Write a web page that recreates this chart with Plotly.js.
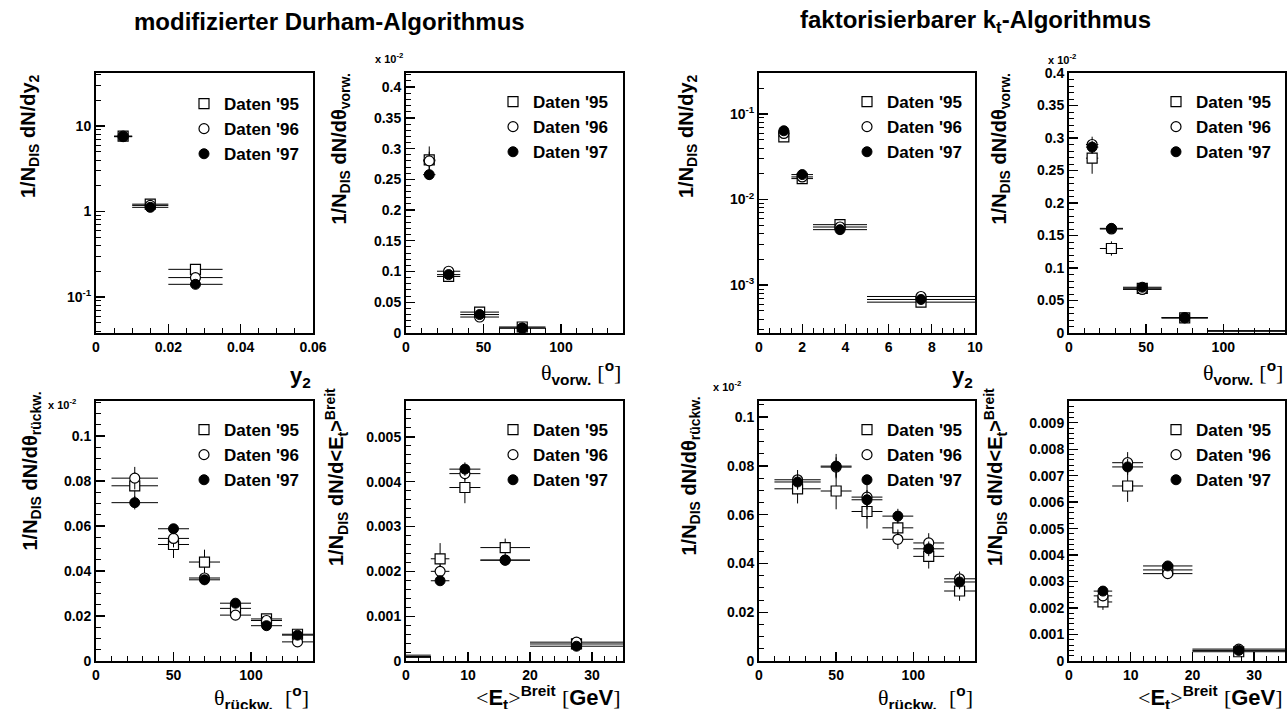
<!DOCTYPE html>
<html><head><meta charset="utf-8">
<script src="https://cdn.plot.ly/plotly-3.0.1.min.js"></script>
<style>html,body{margin:0;padding:0;background:#fff}</style>
</head><body><div id="chart" style="width:1287px;height:709px"></div>
<script>
const W = 1287, H = 709;
const FONT = 'Liberation Sans, Arial, sans-serif';

// ---------- DATA ----------
// modifizierter Durham-Algorithmus: y2
const DUR_Y2_X = [0.0075, 0.015, 0.0275];
const DUR_Y2_XERR = [0.0025, 0.005, 0.0075];
const DUR_Y2_95 = [7.6, 1.22, 0.211];
const DUR_Y2_95_ERR = [0.35, 0.06, 0.03];
const DUR_Y2_96 = [7.6, 1.18, 0.169];
const DUR_Y2_96_ERR = [0.3, 0.05, 0.02];
const DUR_Y2_97 = [7.5, 1.12, 0.141];
const DUR_Y2_97_ERR = [0.2, 0.04, 0.01];

// Durham: theta vorwaerts (x 10^-2)
const DUR_TV_X = [15, 27.5, 47.5, 75];
const DUR_TV_XERR = [4, 7.5, 12.5, 15];
const DUR_TV_95 = [0.2815, 0.092, 0.034, 0.0098];
const DUR_TV_95_ERR = [0.022, 0.007, 0.004, 0.002];
const DUR_TV_96 = [0.280, 0.1005, 0.026, 0.008];
const DUR_TV_96_ERR = [0.015, 0.005, 0.003, 0.0015];
const DUR_TV_97 = [0.2576, 0.095, 0.030, 0.008];
const DUR_TV_97_ERR = [0.008, 0.004, 0.002, 0.001];

// Durham: theta rueckwaerts (x 10^-2)
const DUR_TR_X = [25, 50, 70, 90, 110, 130];
const DUR_TR_XERR = [15, 10, 10, 10, 10, 10];
const DUR_TR_95 = [0.0779, 0.0518, 0.0440, 0.0234, 0.0187, 0.0119];
const DUR_TR_95_ERR = [0.006, 0.006, 0.0055, 0.0025, 0.002, 0.0015];
const DUR_TR_96 = [0.0813, 0.0545, 0.0369, 0.0204, 0.0180, 0.0085];
const DUR_TR_96_ERR = [0.005, 0.004, 0.003, 0.002, 0.0015, 0.001];
const DUR_TR_97 = [0.0704, 0.0588, 0.0361, 0.0257, 0.0157, 0.0115];
const DUR_TR_97_ERR = [0.003, 0.002, 0.002, 0.0015, 0.001, 0.001];

// Durham: <Et>^Breit
const DUR_ET_X = [5.5, 9.5, 16, 27.5];
const DUR_ET_XERR = [1.5, 2.5, 4, 7.5];
const DUR_ET_95 = [0.00228, 0.00387, 0.00253, 0.00038];
const DUR_ET_95_ERR = [0.00035, 0.00035, 0.0002, 0.00005];
const DUR_ET_96 = [0.00200, 0.00418, 0.00225, 0.00042];
const DUR_ET_96_ERR = [0.00015, 0.00015, 0.0001, 0.00004];
const DUR_ET_97 = [0.00179, 0.00428, 0.00225, 0.00033];
const DUR_ET_97_ERR = [0.0001, 0.00015, 0.0001, 0.00003];
const DUR_ET_LOW_X = [2];
const DUR_ET_LOW_XERR = [2];
const DUR_ET_LOW_95 = [0.00013];
const DUR_ET_LOW_96 = [0.00010];
const DUR_ET_LOW_97 = [0.00008];

// faktorisierbarer kt: y2
const KT_Y2_X = [1.15, 2, 3.75, 7.5];
const KT_Y2_XERR = [0.25, 0.5, 1.25, 2.5];
const KT_Y2_95 = [0.0542, 0.0176, 0.00509, 0.000632];
const KT_Y2_95_ERR = [0.005, 0.001, 0.0003, 0.00008];
const KT_Y2_96 = [0.0593, 0.0184, 0.00478, 0.000736];
const KT_Y2_96_ERR = [0.003, 0.0008, 0.0002, 0.00005];
const KT_Y2_97 = [0.0638, 0.0196, 0.00445, 0.000679];
const KT_Y2_97_ERR = [0.002, 0.0006, 0.0002, 0.00004];

// kt: theta vorwaerts (x 10^-2)
const KT_TV_X = [15, 27.5, 47.5, 75];
const KT_TV_XERR = [4, 7.5, 12.5, 15];
const KT_TV_95 = [0.269, 0.130, 0.0688, 0.0233];
const KT_TV_95_ERR = [0.024, 0.011, 0.004, 0.002];
const KT_TV_96 = [0.290, 0.160, 0.067, 0.0235];
const KT_TV_96_ERR = [0.012, 0.005, 0.003, 0.0015];
const KT_TV_97 = [0.286, 0.161, 0.0704, 0.0233];
const KT_TV_97_ERR = [0.010, 0.004, 0.002, 0.001];
const KT_TV_HIGH_X = [115];
const KT_TV_HIGH_XERR = [25];
const KT_TV_HIGH_95 = [0.0030];
const KT_TV_HIGH_96 = [0.0035];
const KT_TV_HIGH_97 = [0.0030];

// kt: theta rueckwaerts (x 10^-2)
const KT_TR_X = [25, 50, 70, 90, 110, 130];
const KT_TR_XERR = [15, 10, 10, 10, 10, 10];
const KT_TR_95 = [0.0706, 0.0697, 0.0613, 0.0546, 0.0429, 0.0287];
const KT_TR_95_ERR = [0.006, 0.0075, 0.007, 0.005, 0.005, 0.004];
const KT_TR_96 = [0.0743, 0.0795, 0.0672, 0.0499, 0.0484, 0.0337];
const KT_TR_96_ERR = [0.004, 0.004, 0.009, 0.004, 0.004, 0.003];
const KT_TR_97 = [0.0734, 0.0799, 0.0661, 0.0594, 0.0460, 0.0324];
const KT_TR_97_ERR = [0.003, 0.005, 0.004, 0.003, 0.003, 0.003];

// kt: <Et>^Breit
const KT_ET_X = [5.5, 9.5, 16, 27.5];
const KT_ET_XERR = [1.5, 2.5, 4, 7.5];
const KT_ET_95 = [0.00223, 0.00661, 0.00344, 0.00035];
const KT_ET_95_ERR = [0.0003, 0.0006, 0.0001, 0.00005];
const KT_ET_96 = [0.00246, 0.00749, 0.00330, 0.00045];
const KT_ET_96_ERR = [0.0002, 0.0004, 0.0001, 0.00005];
const KT_ET_97 = [0.00264, 0.00733, 0.00359, 0.00040];
const KT_ET_97_ERR = [0.0001, 0.0003, 0.0001, 0.00004];

const SERIES_NAMES = ["Daten '95", "Daten '96", "Daten '97"];

// ---------- STYLE ----------
const px = v => v / W;
const py = v => 1 - v / H;
const MARKERS = [
  {symbol: 'square', size: 10, color: '#ffffff', line: {color: '#000', width: 1.2}},
  {symbol: 'circle', size: 10, color: '#ffffff', line: {color: '#000', width: 1.2}},
  {symbol: 'circle', size: 10, color: '#000000', line: {color: '#000', width: 1}}
];

const traces = [];
const layout = {
  width: W, height: H,
  margin: {l: 0, r: 0, t: 0, b: 0},
  paper_bgcolor: '#fff', plot_bgcolor: '#fff',
  showlegend: true,
  font: {family: FONT, color: '#000'},
  annotations: []
};

function errBar(arr) {
  return {type: 'data', array: arr, visible: true, color: '#000', thickness: 1, width: 0};
}

function logMinor(lo, hi) {
  const v = [];
  for (let e = lo; e <= hi; e++) for (let m = 2; m <= 9; m++) v.push(m * Math.pow(10, e));
  return v;
}
const B = t => '<b>' + t + '</b>';

function addPanel(k, cfg) {
  const xa = k === 1 ? 'x' : 'x' + k;
  const ya = k === 1 ? 'y' : 'y' + k;
  const lg = k === 1 ? 'legend' : 'legend' + k;
  const common = {
    showline: true, mirror: true, linecolor: '#000', linewidth: 2,
    ticks: 'inside', ticklen: 9, tickwidth: 1.3, tickcolor: '#000',
    showgrid: false, zeroline: false,
    tickfont: {family: FONT, size: 14, weight: 700, color: '#000'}
  };
  layout[k === 1 ? 'xaxis' : 'xaxis' + k] = Object.assign({}, common, {
    domain: [px(cfg.xd[0]), px(cfg.xd[1])], anchor: ya,
    range: cfg.xr, tickvals: cfg.xtv, ticktext: cfg.xtv.map(v => B(String(v))),
    ticklabelstandoff: 0,
    minor: {ticks: 'inside', ticklen: 5, tickwidth: 1, tickcolor: '#000', dtick: cfg.xminor, tick0: 0}
  });
  const yax = Object.assign({}, common, {
    domain: [py(cfg.yd[1]), py(cfg.yd[0])], anchor: xa, range: cfg.yr
  });
  if (cfg.ylog) {
    yax.type = 'log';
    yax.tickvals = cfg.ytv; yax.ticktext = cfg.ytt.map(B);
    yax.minor = {ticks: 'inside', ticklen: 5, tickwidth: 1, tickcolor: '#000', tickvals: cfg.yminorvals};
  } else {
    yax.dtick = cfg.ydtick; yax.tick0 = 0;
    yax.tickprefix = '<b>'; yax.ticksuffix = '</b>';
    yax.minor = {ticks: 'inside', ticklen: 5, tickwidth: 1, tickcolor: '#000', dtick: cfg.yminor, tick0: 0};
  }
  layout[k === 1 ? 'yaxis' : 'yaxis' + k] = yax;

  cfg.series.forEach((s, i) => {
    traces.push({
      type: 'scatter', mode: 'markers', name: SERIES_NAMES[i],
      x: cfg.x, y: s[0],
      error_x: errBar(cfg.xerr), error_y: errBar(s[1]),
      marker: MARKERS[i], xaxis: xa, yaxis: ya, legend: lg, showlegend: true,
      hoverinfo: 'x+y'
    });
  });
  if (cfg.extra) {
    cfg.extra.y.forEach((yy, i) => {
      traces.push({
        type: 'scatter', mode: 'markers', name: SERIES_NAMES[i],
        x: cfg.extra.x, y: yy,
        error_x: errBar(cfg.extra.xerr),
        marker: {size: 2, opacity: 0, color: '#000'},
        xaxis: xa, yaxis: ya, showlegend: false, hoverinfo: 'x+y'
      });
    });
  }
  layout[lg] = {
    x: px(cfg.leg[0] - 21), y: py(cfg.leg[1] - 16), xanchor: 'left', yanchor: 'top',
    bgcolor: 'rgba(0,0,0,0)', borderwidth: 0, tracegroupgap: 0,
    font: {family: FONT, size: 17, weight: 'bold', color: '#000'}
  };
}

addPanel(1, {
  xd: [96, 313], yd: [73, 333], xr: [0, 0.06], xtv: [0, 0.02, 0.04, 0.06], xminor: 0.005,
  ylog: true, yr: [-1.42, 1.62], ytv: [0.1, 1, 10], ytt: ['10<sup>-1</sup>', '1', '10'],
  yminorvals: logMinor(-2, 1),
  x: DUR_Y2_X, xerr: DUR_Y2_XERR,
  series: [[DUR_Y2_95, DUR_Y2_95_ERR], [DUR_Y2_96, DUR_Y2_96_ERR], [DUR_Y2_97, DUR_Y2_97_ERR]],
  leg: [205, 102]
});
addPanel(2, {
  xd: [406, 623], yd: [73, 333], xr: [0, 140], xtv: [0, 50, 100], xminor: 10,
  yr: [0, 0.423], ydtick: 0.05, yminor: 0.01,
  x: DUR_TV_X, xerr: DUR_TV_XERR,
  series: [[DUR_TV_95, DUR_TV_95_ERR], [DUR_TV_96, DUR_TV_96_ERR], [DUR_TV_97, DUR_TV_97_ERR]],
  leg: [514, 100]
});
addPanel(3, {
  xd: [759, 975], yd: [73, 333], xr: [0, 10], xtv: [0, 2, 4, 6, 8, 10], xminor: 0.5,
  ylog: true, yr: [-3.56, -0.52], ytv: [0.001, 0.01, 0.1],
  ytt: ['10<sup>-3</sup>', '10<sup>-2</sup>', '10<sup>-1</sup>'],
  yminorvals: logMinor(-4, -1),
  x: KT_Y2_X, xerr: KT_Y2_XERR,
  series: [[KT_Y2_95, KT_Y2_95_ERR], [KT_Y2_96, KT_Y2_96_ERR], [KT_Y2_97, KT_Y2_97_ERR]],
  leg: [868, 100]
});
addPanel(4, {
  xd: [1069, 1285], yd: [73, 333], xr: [0, 140], xtv: [0, 50, 100], xminor: 10,
  yr: [0, 0.4], ydtick: 0.05, yminor: 0.01,
  x: KT_TV_X, xerr: KT_TV_XERR,
  series: [[KT_TV_95, KT_TV_95_ERR], [KT_TV_96, KT_TV_96_ERR], [KT_TV_97, KT_TV_97_ERR]],
  extra: {x: KT_TV_HIGH_X, xerr: KT_TV_HIGH_XERR, y: [KT_TV_HIGH_95, KT_TV_HIGH_96, KT_TV_HIGH_97]},
  leg: [1177, 100]
});
addPanel(5, {
  xd: [96, 313], yd: [401, 661], xr: [0, 140], xtv: [0, 50, 100], xminor: 10,
  yr: [0, 0.1156], ydtick: 0.02, yminor: 0.005,
  x: DUR_TR_X, xerr: DUR_TR_XERR,
  series: [[DUR_TR_95, DUR_TR_95_ERR], [DUR_TR_96, DUR_TR_96_ERR], [DUR_TR_97, DUR_TR_97_ERR]],
  leg: [205, 428]
});
addPanel(6, {
  xd: [406, 623], yd: [401, 661], xr: [0, 35], xtv: [0, 10, 20, 30], xminor: 2,
  yr: [0, 0.0058], ydtick: 0.001, yminor: 0.0002,
  x: DUR_ET_X, xerr: DUR_ET_XERR,
  series: [[DUR_ET_95, DUR_ET_95_ERR], [DUR_ET_96, DUR_ET_96_ERR], [DUR_ET_97, DUR_ET_97_ERR]],
  extra: {x: DUR_ET_LOW_X, xerr: DUR_ET_LOW_XERR, y: [DUR_ET_LOW_95, DUR_ET_LOW_96, DUR_ET_LOW_97]},
  leg: [514, 428]
});
addPanel(7, {
  xd: [759, 975], yd: [401, 661], xr: [0, 140], xtv: [0, 50, 100], xminor: 10,
  yr: [0, 0.1066], ydtick: 0.02, yminor: 0.005,
  x: KT_TR_X, xerr: KT_TR_XERR,
  series: [[KT_TR_95, KT_TR_95_ERR], [KT_TR_96, KT_TR_96_ERR], [KT_TR_97, KT_TR_97_ERR]],
  leg: [868, 428]
});
addPanel(8, {
  xd: [1069, 1285], yd: [401, 661], xr: [0, 35], xtv: [0, 10, 20, 30], xminor: 2,
  yr: [0, 0.00982], ydtick: 0.001, yminor: 0.0002,
  x: KT_ET_X, xerr: KT_ET_XERR,
  series: [[KT_ET_95, KT_ET_95_ERR], [KT_ET_96, KT_ET_96_ERR], [KT_ET_97, KT_ET_97_ERR]],
  leg: [1177, 428]
});

// ---------- TEXT ----------
const sf = t => "<span style=\"font-family:'Liberation Serif';font-weight:normal\">" + t + "</span>";
function ann(text, x, y, opts) {
  layout.annotations.push(Object.assign({
    text: text, xref: 'paper', yref: 'paper', x: px(x), y: py(y),
    showarrow: false, font: {family: FONT, size: 20, weight: 'bold', color: '#000'}
  }, opts || {}));
}
// Titles
ann('modifizierter Durham-Algorithmus', 330, 22, {font: {family: FONT, size: 24, weight: 'bold', color: '#000'}, xanchor: 'center', yanchor: 'middle'});
ann('faktorisierbarer k<sub>t</sub>-Algorithmus', 975, 22, {font: {family: FONT, size: 24, weight: 'bold', color: '#000'}, xanchor: 'center', yanchor: 'middle'});

// Y titles (rotated)
const YT = {textangle: -90, xanchor: 'center', yanchor: 'top'};
const yTitleY2 = '1/N<sub>DIS</sub> dN/dy<sub>2</sub>';
const yTitleTV = '1/N<sub>DIS</sub> dN/dθ<sub>vorw.</sub>';
const yTitleTR = '1/N<sub>DIS</sub> dN/dθ<sub>rückw.</sub>';
const yTitleET = '1/N<sub>DIS</sub> dN/d&lt;E<sub>t</sub>&gt;<sup>Breit</sup>';
ann(yTitleY2, 30, 72, YT);
ann(yTitleTV, 340, 72, YT);
ann(yTitleY2, 688, 72, YT);
ann(yTitleTV, 1000, 72, YT);
ann(yTitleTR, 31, 390, YT);
ann(yTitleET, 336, 386, YT);
ann(yTitleTR, 690, 395, YT);
ann(yTitleET, 995, 386, YT);

// X titles
const XT = {xanchor: 'right', yanchor: 'middle'};
const xTitleY2 = 'y<sub>2</sub>';
const xTitleTV = sf('θ') + '<sub>vorw.</sub> ' + sf('[') + '<sup>o</sup>' + sf(']');
const xTitleTR = sf('θ') + '<sub>rückw.</sub>  ' + sf('[') + '<sup>o</sup>' + sf(']');
const xTitleET = sf('&lt;') + 'E<sub>t</sub>' + sf('&gt;') + '<sup>Breit</sup> ' + sf('[') + 'GeV' + sf(']');
const XF = {family: FONT, size: 22, weight: 'bold', color: '#000'};
ann(xTitleY2, 313, 377, Object.assign({font: XF}, XT));
ann(xTitleTV, 623, 373, Object.assign({font: XF}, XT));
ann(xTitleY2, 975, 377, Object.assign({font: XF}, XT));
ann(xTitleTV, 1285, 373, Object.assign({font: XF}, XT));
ann(xTitleTR, 311, 697, Object.assign({font: XF}, XT));
ann(xTitleET, 623, 697, Object.assign({font: XF}, XT));
ann(xTitleTR, 975, 697, Object.assign({font: XF}, XT));
ann(xTitleET, 1285, 697, Object.assign({font: XF}, XT));

// scale factors
const SC = {font: {family: FONT, size: 11, weight: 'bold', color: '#000'}, xanchor: 'left', yanchor: 'middle'};
ann('x 10<sup>-2</sup>', 373, 58, SC);
ann('x 10<sup>-2</sup>', 1046, 59, SC);
ann('x 10<sup>-2</sup>', 46, 404, SC);
ann('x 10<sup>-2</sup>', 711, 386, SC);

Plotly.newPlot('chart', traces, layout, {staticPlot: true, displayModeBar: false});
</script></body></html>
